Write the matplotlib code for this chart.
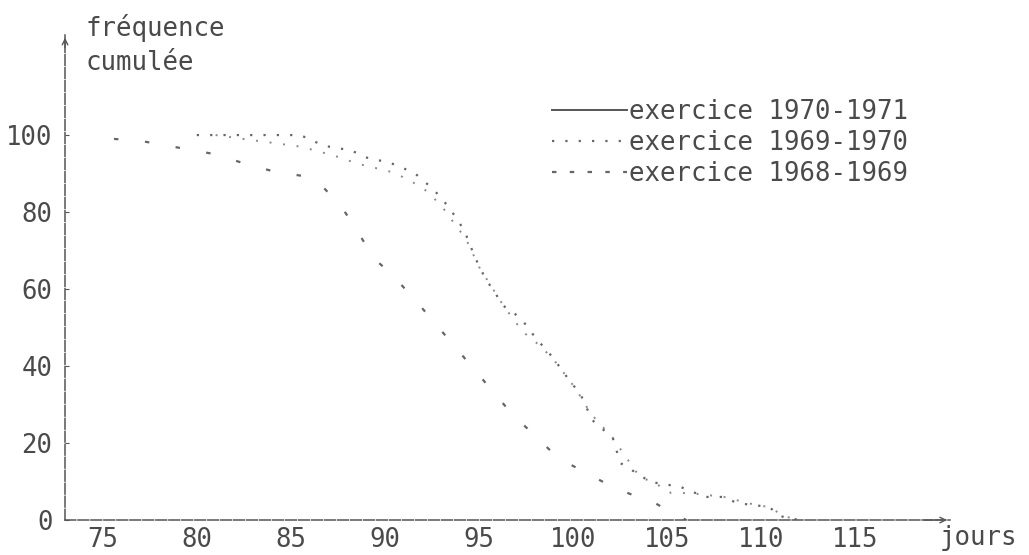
import matplotlib.pyplot as plt
from matplotlib.lines import Line2D

# jours / frequence cumulee (%)
x_7071 = [81, 82.9, 84.0, 85.5, 87.2, 88.6, 90.2, 91.2, 92.2, 93.0, 93.7, 94.3, 95.0, 96.3,
          97.3, 98.3, 99.1, 100.1, 100.6, 100.9, 102.1, 103.5, 104.5, 105.2, 106.2, 108.0,
          109.7, 110.4, 111.2, 112.0]
y_7071 = [100, 98.7, 98.0, 97.0, 94.8, 92.5, 90.6, 88.6, 85.5, 81.6, 76.9, 73.0, 65.7, 55.6,
          49.0, 45.0, 40.8, 34.3, 30.4, 27.8, 21.3, 11.4, 9.1, 7.0, 7.0, 6.0,
          3.9, 3.4, 1.0, 0]

x_6970 = [80, 82, 84, 85.5, 86.3, 86.9, 87.5, 88.2, 89.1, 90.1, 90.6, 91.6, 92.5, 93.0,
          93.5, 94.2, 94.8, 95.3, 96.3, 97.2, 98.0, 98.9, 99.7, 100.4, 101.0, 102.1, 102.5,
          103.1, 104.1, 105.7, 107.0, 108.0, 108.7, 110.4, 111.0, 112.0]
y_6970 = [100, 100, 100, 100, 98.2, 97.1, 96.6, 96.0, 94.0, 93.0, 92.2, 90.0, 86.2, 83.6,
          80.5, 75.3, 68.0, 63.0, 55.6, 52.5, 47.3, 42.3, 36.9, 32.5, 26.0, 21.3, 14.8,
          13.0, 9.9, 8.6, 6.0, 6.0, 4.4, 3.4, 1.0, 0]

x_6869 = [75.6, 77.0, 81.0, 82.6, 84.2, 85.6, 86.8, 87.7, 88.6, 89.4, 90.4, 91.7, 96.7,
          99.2, 101.7, 103.0, 104.2, 105.0, 106.0]
y_6869 = [99, 98.5, 95.0, 92.5, 90.4, 89.4, 86.0, 81.3, 74.5, 68.0, 63.6, 56.6, 27.8,
          16.1, 9.6, 6.8, 4.8, 2.6, 0]

labels = ['exercice 1970-1971', 'exercice 1969-1970', 'exercice 1968-1969']
xticks = [75, 80, 85, 90, 95, 100, 105, 110, 115]
yticks = [0, 20, 40, 60, 80, 100]

INK = '#4a4a4a'
FONT = 'DejaVu Sans Mono'
FS = 18.5

plt.rcParams['font.family'] = FONT
fig = plt.figure(figsize=(10.29, 5.55), dpi=100)
ax = fig.add_axes([0.0632, 0.063, 0.8598, 0.874])

ax.plot(x_7071, y_7071, color='#8a8a8a', lw=1.4, ls=(0, (1, 6)))
ax.plot(x_6970, y_6970, color='#666666', lw=1.6, ls=(0, (1, 5)))
ax.plot(x_6869, y_6869, color='#666666', lw=1.6, ls=(0, (2, 12)))

ax.set_xlim(73, 120)
ax.set_ylim(0, 126)

for s in ['top', 'right']:
    ax.spines[s].set_visible(False)
for s in ['left', 'bottom']:
    ax.spines[s].set_color('#555555')
    ax.spines[s].set_linewidth(1.1)
    ax.spines[s].set_linestyle((0, (7, 1.5)))

ax.set_xticks(xticks)
ax.set_yticks(yticks)
ax.tick_params(axis='x', length=0, pad=5, labelsize=FS, labelcolor=INK)
ax.tick_params(axis='y', length=3, direction='in', pad=9, labelsize=FS,
               labelcolor=INK, color='#555555')

# arrows at axis ends
ax.annotate('', xy=(120, 0), xytext=(118.5, 0), annotation_clip=False,
            arrowprops=dict(arrowstyle='->', color='#555555', lw=1.0))
ax.annotate('', xy=(73, 126), xytext=(73, 122), annotation_clip=False,
            arrowprops=dict(arrowstyle='->', color='#555555', lw=1.0))

ax.text(121.5, -1.3, 'jours', fontsize=FS, color=INK, ha='center', va='top', clip_on=False)
ax.text(74.1, 127.8, 'fréquence', fontsize=FS, color=INK, ha='left', va='center', clip_on=False)
ax.text(74.1, 118.7, 'cumulée', fontsize=FS, color=INK, ha='left', va='center', clip_on=False)

handles = [Line2D([], [], color='#555555', lw=1.4),
           Line2D([], [], color='#666666', lw=1.6, ls=(0, (1, 5))),
           Line2D([], [], color='#666666', lw=1.6, ls=(0, (2, 6)))]
leg = ax.legend(handles, labels, loc='upper left', bbox_to_anchor=(552 / 1029, 1 - 99 / 555),
                bbox_transform=fig.transFigure, frameon=False, fontsize=FS,
                handlelength=2.9, handletextpad=0.1, labelspacing=0.2, borderpad=0,
                borderaxespad=0)
for t in leg.get_texts():
    t.set_color(INK)

fig.savefig('out.png', dpi=100)
